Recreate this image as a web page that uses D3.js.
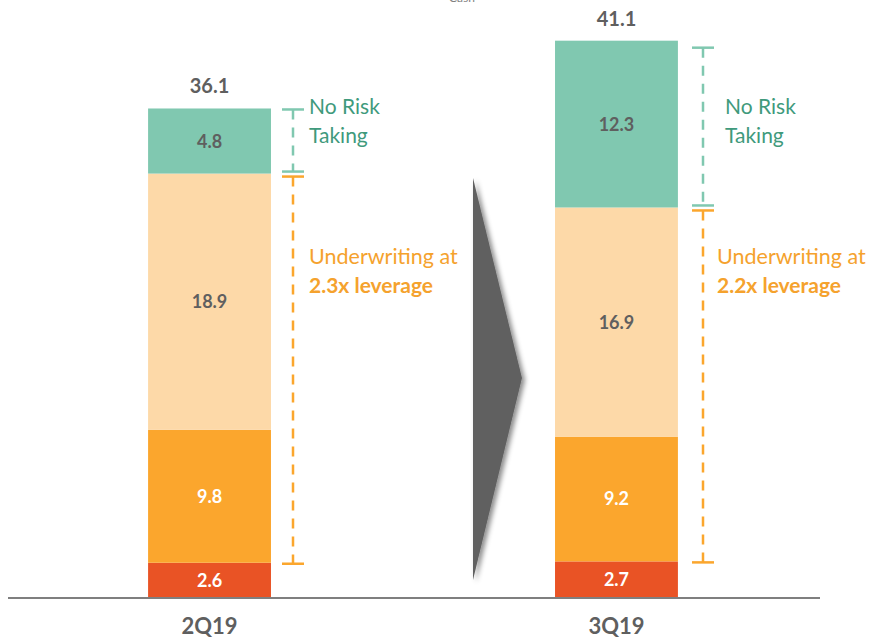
<!DOCTYPE html>
<html>
<head>
<meta charset="utf-8">
<script src="https://cdn.jsdelivr.net/npm/d3@7"></script>
<style>
  body { margin: 0; background: #fff; }
  text { font-family: Lato, "Open Sans", sans-serif; }
</style>
</head>
<body>
<div id="chart"></div>
<script>
// quarters and stacked segments (bottom to top)
var quarters = ["2Q19", "3Q19"];
var segments = ["base", "mid", "upper", "noRisk"];
var base = [2.6, 2.7];
var mid = [9.8, 9.2];
var upper = [18.9, 16.9];
var noRisk = [4.8, 12.3];
var totals = [36.1, 41.1];
var leverage = ["2.3x leverage", "2.2x leverage"];

var w = 869;
var h = 640;

var svg = d3.select("#chart").append("svg")
  .attr("width", w)
  .attr("height", h);

var defs = svg.append("defs");
var f = defs.append("filter").attr("id", "shadow")
  .attr("x", "-50%").attr("y", "-10%").attr("width", "200%").attr("height", "120%");
f.append("feDropShadow").attr("dx", 3).attr("dy", 2).attr("stdDeviation", 2.5)
  .attr("flood-color", "#000").attr("flood-opacity", 0.45);

var xScale = d3.scaleBand()
  .domain(quarters)
  .range([26, 800])
  .paddingInner(0.698)
  .paddingOuter(0.3);

var yScale = d3.scaleLinear()
  .domain([0, 44.1])
  .range([598, 0]);

var colors = {
  base: "#e95325",
  mid: "#fba62d",
  upper: "#fdd9a8",
  noRisk: "#80c8b0"
};
var labelColors = {
  base: "#ffffff",
  mid: "#ffffff",
  upper: "#5f5f5f",
  noRisk: "#5f5f5f"
};

var data = quarters.map(function(q, i) {
  return { q: q, base: base[i], mid: mid[i], upper: upper[i], noRisk: noRisk[i], total: totals[i], lev: leverage[i] };
});

var stack = d3.stack().keys(segments)(data);

var layer = svg.selectAll("g.layer")
  .data(stack)
  .enter()
  .append("g")
  .attr("class", "layer");

layer.selectAll("rect")
  .data(function(d) { return d.map(function(p) { return { key: d.key, p: p }; }); })
  .enter()
  .append("rect")
  .attr("x", function(d) { return xScale(d.p.data.q); })
  .attr("width", xScale.bandwidth())
  .attr("y", function(d) { return yScale(d.p[1]); })
  .attr("height", function(d) { return yScale(d.p[0]) - yScale(d.p[1]); })
  .attr("fill", function(d) { return colors[d.key]; });

layer.selectAll("text")
  .data(function(d) { return d.map(function(p) { return { key: d.key, p: p }; }); })
  .enter()
  .append("text")
  .attr("x", function(d) { return xScale(d.p.data.q) + xScale.bandwidth() / 2; })
  .attr("y", function(d) { return yScale((d.p[0] + d.p[1]) / 2); })
  .attr("dy", "0.36em")
  .attr("text-anchor", "middle")
  .attr("font-size", 18)
  .attr("font-weight", "bold")
  .attr("fill", function(d) { return labelColors[d.key]; })
  .text(function(d) { return (d.p[1] - d.p[0]).toFixed(1); });

// totals on top
svg.selectAll("text.total")
  .data(data)
  .enter()
  .append("text")
  .attr("class", "total")
  .attr("x", function(d) { return xScale(d.q) + xScale.bandwidth() / 2; })
  .attr("y", function(d) { return yScale(d.total) - 15; })
  .attr("text-anchor", "middle")
  .attr("font-size", 20)
  .attr("font-weight", "bold")
  .attr("fill", "#5f5f5f")
  .text(function(d) { return d.total.toFixed(1); });

// baseline
svg.append("line")
  .attr("x1", 8).attr("x2", 820)
  .attr("y1", yScale(0)).attr("y2", yScale(0))
  .attr("stroke", "#7f7f7f")
  .attr("stroke-width", 2);

// category labels
svg.selectAll("text.cat")
  .data(quarters)
  .enter()
  .append("text")
  .attr("class", "cat")
  .attr("x", function(d) { return xScale(d) + xScale.bandwidth() / 2; })
  .attr("y", 634)
  .attr("text-anchor", "middle")
  .attr("font-size", 22)
  .attr("font-weight", "bold")
  .attr("fill", "#5f5f5f")
  .text(function(d) { return d; });

// clipped title bit at the top
svg.append("text")
  .attr("x", 462).attr("y", 2)
  .attr("text-anchor", "middle")
  .attr("font-size", 12)
  .attr("fill", "#7f7f7f")
  .text("Cash");

// brackets
function bracket(x, y1, y2, color) {
  var g = svg.append("g");
  g.append("line")
    .attr("x1", x).attr("x2", x)
    .attr("y1", y1).attr("y2", y2)
    .attr("stroke", color).attr("stroke-width", 2.5)
    .attr("stroke-dasharray", "10,8");
  g.append("line")
    .attr("x1", x - 11).attr("x2", x + 11)
    .attr("y1", y1).attr("y2", y1)
    .attr("stroke", color).attr("stroke-width", 2.5);
  g.append("line")
    .attr("x1", x - 11).attr("x2", x + 11)
    .attr("y1", y2).attr("y2", y2)
    .attr("stroke", color).attr("stroke-width", 2.5);
}

var bracketX = [293, 703];
var textX = [309, 725];
var orangeTextX = [309, 717];

data.forEach(function(d, i) {
  var boundary = yScale(d.base + d.mid + d.upper);
  var topY = yScale(d.total) + (i === 0 ? 1 : 7);
  bracket(bracketX[i], topY, boundary - 2, "#80c8b0");
  bracket(bracketX[i], boundary + 3, yScale(d.base) + 1, "#fba62d");

  svg.append("text")
    .attr("x", textX[i]).attr("y", 114)
    .attr("font-size", 21).attr("fill", "#3f9a7c")
    .text("No Risk");
  svg.append("text")
    .attr("x", textX[i]).attr("y", 143)
    .attr("font-size", 21).attr("fill", "#3f9a7c")
    .text("Taking");
  svg.append("text")
    .attr("x", orangeTextX[i]).attr("y", 264)
    .attr("font-size", 21.5).attr("fill", "#f5a22d")
    .text("Underwriting at");
  svg.append("text")
    .attr("x", orangeTextX[i]).attr("y", 293)
    .attr("font-size", 21).attr("font-weight", "bold").attr("fill", "#f5a22d")
    .text(d.lev);
});

// arrow between bars
svg.append("path")
  .attr("d", "M473,178 L522,378 L473,580 Z")
  .attr("fill", "#606060")
  .attr("filter", "url(#shadow)");
</script>
</body>
</html>
